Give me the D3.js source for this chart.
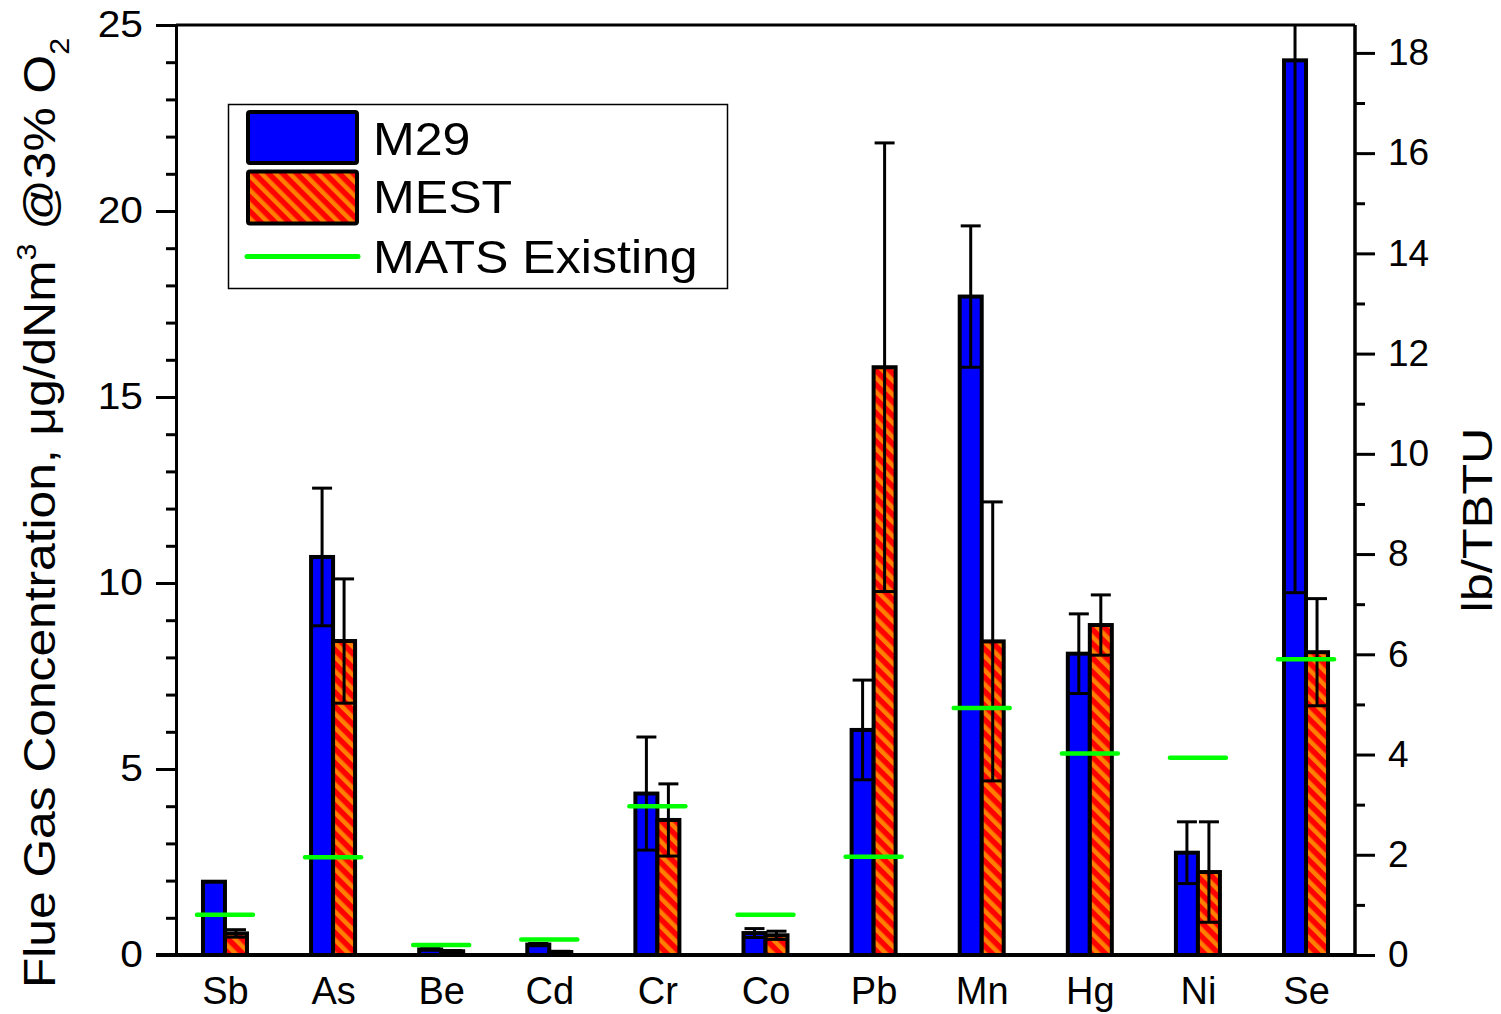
<!DOCTYPE html>
<html>
<head>
<meta charset="utf-8">
<script src="https://cdn.jsdelivr.net/npm/d3@7"></script>
<style>
  html, body { margin: 0; padding: 0; background: #fff; }
  svg { display: block; font-family: "Liberation Sans", Arial, sans-serif; }
</style>
</head>
<body>
<svg id="chart" width="1501" height="1014"></svg>
<script>
// ---- data ----
const categories = ["Sb", "As", "Be", "Cd", "Cr", "Co", "Pb", "Mn", "Hg", "Ni", "Se"];
const m29 = [1.97, 10.7, 0.15, 0.28, 4.34, 0.59, 6.05, 17.7, 8.1, 2.75, 24.05];
const m29Err = [0, 1.85, 0.02, 0.03, 1.52, 0.12, 1.34, 1.9, 1.07, 0.83, 14.31];
const mest = [0.58, 8.44, 0.1, 0.08, 3.63, 0.53, 15.8, 8.43, 8.87, 2.23, 8.14];
const mestErr = [0.1, 1.67, 0.02, 0.02, 0.97, 0.11, 6.03, 3.75, 0.81, 1.35, 1.44];
const matsExisting = [1.08, 2.63, 0.27, 0.42, 4.0, 1.08, 2.64, 6.64, 5.42, 5.3, 7.95];
const leftTicks = [0, 5, 10, 15, 20, 25];
const rightTicks = [0, 2, 4, 6, 8, 10, 12, 14, 16, 18];
const seriesNames = ["M29", "MEST", "MATS Existing"];
const yLabelMain = "Flue Gas Concentration, μg/dNm";
const yLabelRight = "lb/TBTU";

// ---- layout ----
const L = 176, R = 1355, T = 25, B = 955;
const svg = d3.select("#chart");
const font = "'Liberation Sans', Arial, sans-serif";

const x = d3.scalePoint().domain(categories).range([L, R]).padding(0.453);
const y = d3.scaleLinear().domain([0, 25]).range([B, T]);
const yR = d3.scaleLinear().domain([0, 25 * 18 / 24.25]).range([B, T]);
const barW = 22;

// pattern
const defs = svg.append("defs");
const pat = defs.append("pattern").attr("id", "hatch")
  .attr("patternUnits", "userSpaceOnUse").attr("width", 10).attr("height", 10)
  .attr("patternTransform", "rotate(-45)");
pat.append("rect").attr("width", 10).attr("height", 10).attr("fill", "#ff0000");
pat.append("rect").attr("width", 4.5).attr("height", 10).attr("fill", "#ff8000");
defs.append("clipPath").attr("id", "plotclip").append("rect")
  .attr("x", L).attr("y", T).attr("width", R - L).attr("height", B - T);

const data = categories.map((c, i) => ({
  c, m: m29[i], me: m29Err[i], s: mest[i], se: mestErr[i], g: matsExisting[i]
}));

const plot = svg.append("g").attr("clip-path", "url(#plotclip)");

// bars
plot.selectAll(".m29").data(data).enter().append("rect")
  .attr("x", d => x(d.c) - barW).attr("width", barW)
  .attr("y", d => y(d.m)).attr("height", d => B - y(d.m))
  .attr("fill", "#0000ff").attr("stroke", "#000").attr("stroke-width", 4);
plot.selectAll(".mest").data(data).enter().append("rect")
  .attr("x", d => x(d.c)).attr("width", barW)
  .attr("y", d => y(d.s)).attr("height", d => B - y(d.s))
  .attr("fill", "url(#hatch)").attr("stroke", "#000").attr("stroke-width", 4);

// error bars
function errBars(cls, off, val, err) {
  const g = plot.selectAll("." + cls).data(data.filter(d => d[err] > 0)).enter().append("g")
    .attr("stroke", "#000").attr("stroke-width", 3);
  g.append("line").attr("x1", d => x(d.c) + off).attr("x2", d => x(d.c) + off)
    .attr("y1", d => y(d[val] - d[err])).attr("y2", d => y(d[val] + d[err]));
  g.append("line").attr("x1", d => x(d.c) + off - 10).attr("x2", d => x(d.c) + off + 10)
    .attr("y1", d => y(d[val] + d[err])).attr("y2", d => y(d[val] + d[err]));
  g.append("line").attr("x1", d => x(d.c) + off - 10).attr("x2", d => x(d.c) + off + 10)
    .attr("y1", d => y(d[val] - d[err])).attr("y2", d => y(d[val] - d[err]));
}
errBars("em", -barW / 2, "m", "me");
errBars("es", barW / 2, "s", "se");

// MATS lines
plot.selectAll(".mats").data(data).enter().append("line")
  .attr("x1", d => x(d.c) - 28).attr("x2", d => x(d.c) + 28)
  .attr("y1", d => y(d.g)).attr("y2", d => y(d.g))
  .attr("stroke", "#00ff00").attr("stroke-width", 4.5).attr("stroke-linecap", "round");

// axes
function styleAxis(g) {
  g.selectAll("text").attr("font-size", 37).attr("font-family", font).attr("fill", "#000");
  g.selectAll("line").attr("stroke", "#000").attr("stroke-width", 3);
  g.select(".domain").attr("stroke", "#000").attr("stroke-width", 3);
}
const minorL = d3.range(0, 26).filter(v => v % 5 !== 0);
svg.append("g").attr("transform", `translate(${L},0)`)
  .call(d3.axisLeft(y).tickValues(minorL).tickSize(10).tickFormat("").tickSizeOuter(0))
  .call(styleAxis);
const la = svg.append("g").attr("transform", `translate(${L},0)`)
  .call(d3.axisLeft(y).tickValues(leftTicks).tickSize(20).tickPadding(13).tickSizeOuter(0))
  .call(styleAxis);
la.selectAll(".tick text").attr("transform", "translate(-33,0) scale(1.1,1) translate(33,0)");

const minorR = d3.range(1, 19, 2);
svg.append("g").attr("transform", `translate(${R},0)`)
  .call(d3.axisRight(yR).tickValues(minorR).tickSize(10).tickFormat("").tickSizeOuter(0))
  .call(styleAxis).select(".domain").attr("d", `M0,${T}V${B}`);
svg.append("g").attr("transform", `translate(${R},0)`)
  .call(d3.axisRight(yR).tickValues(rightTicks).tickSize(20).tickPadding(13).tickSizeOuter(0))
  .call(styleAxis).select(".domain").attr("d", `M0,${T}V${B}`);

// top frame
svg.append("line").attr("x1", L).attr("x2", R).attr("y1", T).attr("y2", T)
  .attr("stroke", "#000").attr("stroke-width", 3);

// bottom axis
const xa = svg.append("g").attr("transform", `translate(0,${B})`)
  .call(d3.axisBottom(x).tickSize(0).tickPadding(22).tickSizeOuter(0));
xa.select(".domain").attr("stroke", "#000").attr("stroke-width", 4).attr("d", `M${L - 20},0H${R}`);
xa.selectAll("text").attr("font-size", 38).attr("font-family", font).attr("fill", "#000");

// y labels
const yl = svg.append("text").attr("transform", "translate(55,513) rotate(-90) scale(1.13,1)")
  .attr("text-anchor", "middle").attr("font-size", 44).attr("font-family", font).attr("fill", "#000");
yl.append("tspan").text(yLabelMain);
yl.append("tspan").attr("font-size", 27).attr("dy", -19).text("3");
yl.append("tspan").attr("dy", 19).text(" @3% O");
yl.append("tspan").attr("font-size", 27).attr("dy", 14).text("2");

svg.append("text").attr("transform", "translate(1492,520) rotate(-90) scale(1.2,1)")
  .attr("text-anchor", "middle").attr("font-size", 42).attr("font-family", font).attr("fill", "#000")
  .text(yLabelRight);

// legend
const lg = svg.append("g");
lg.append("rect").attr("x", 228.5).attr("y", 104.5).attr("width", 499).attr("height", 184)
  .attr("fill", "#fff").attr("stroke", "#000").attr("stroke-width", 1.5);
lg.append("rect").attr("x", 248).attr("y", 112).attr("width", 109).attr("height", 51).attr("rx", 2)
  .attr("fill", "#0000ff").attr("stroke", "#000").attr("stroke-width", 4);
lg.append("rect").attr("x", 248).attr("y", 171.5).attr("width", 109).attr("height", 52).attr("rx", 2)
  .attr("fill", "url(#hatch)").attr("stroke", "#000").attr("stroke-width", 4);
lg.append("line").attr("x1", 247).attr("x2", 358).attr("y1", 256.5).attr("y2", 256.5)
  .attr("stroke", "#00ff00").attr("stroke-width", 5).attr("stroke-linecap", "round");
const ly = [155, 213, 273];
seriesNames.forEach((n, i) => {
  lg.append("text").attr("transform", `translate(373,${ly[i]}) scale(1.066,1)`).attr("font-size", 47)
    .attr("font-family", font).attr("fill", "#000").text(n);
});
</script>
</body>
</html>
